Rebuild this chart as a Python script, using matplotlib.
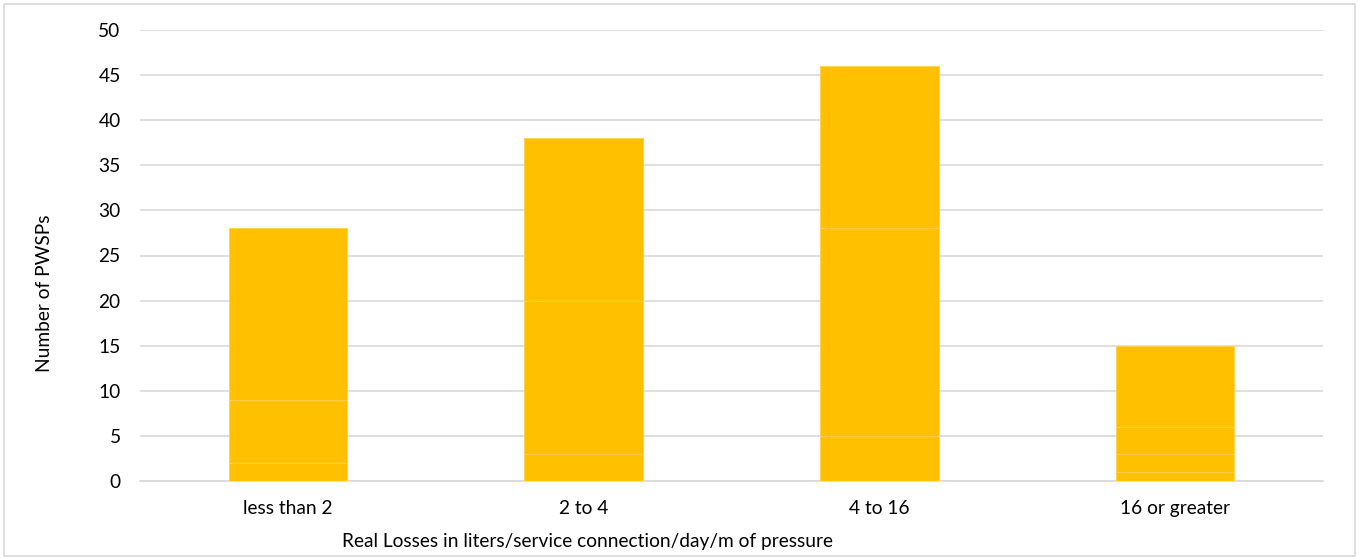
import numpy as np
import matplotlib.pyplot as plt

categories = ["less than 2", "2 to 4", "4 to 16", "16 or greater"]
# stacked segments
seg1 = [2, 3, 5, 1]
seg2 = [7, 17, 23, 2]
seg3 = [19, 18, 18, 3]
seg4 = [0, 0, 0, 9]
segments = [seg1, seg2, seg3, seg4]

plt.rcParams['font.family'] = ['Lato', 'DejaVu Sans']

fig = plt.figure(figsize=(13.59, 5.58), dpi=100)
ax = fig.add_axes([140 / 1359, 1 - 481 / 558, (1323 - 140) / 1359, (481 - 30) / 558])

x = np.arange(len(categories))
bottom = np.zeros(len(categories))
for seg in segments:
    ax.bar(x, seg, width=0.4, bottom=bottom, color="#FFC000",
           edgecolor="#FFD24D", linewidth=0.6, zorder=3)
    bottom += np.array(seg)

ax.set_xlim(-0.5, 3.5)
ax.set_ylim(0, 50)
ax.set_yticks(range(0, 51, 5))
ax.set_xticks(x)
ax.set_xticklabels(categories)
ax.tick_params(length=0, labelsize=13.8, colors="#000000")
ax.tick_params(axis="x", pad=14)
ax.tick_params(axis="y", pad=14)
ax.yaxis.grid(True, color="#D9D9D9", linewidth=1.2, zorder=0)
for s in ["top", "right", "left"]:
    ax.spines[s].set_visible(False)
ax.spines["bottom"].set_color("#D9D9D9")
ax.spines["bottom"].set_linewidth(1.2)

fig.text(44 / 1359, 1 - 293 / 558, "Number of PWSPs", rotation=90,
         ha="center", va="center", fontsize=13.8)
fig.text(588 / 1359, 1 - 541 / 558, "Real Losses in liters/service connection/day/m of pressure",
         ha="center", va="center", fontsize=13.8)

# light border around the chart area
border = plt.Rectangle((0.003, 0.003), 0.994, 0.99, transform=fig.transFigure,
                       fill=False, edgecolor="#D9D9D9", linewidth=1.2)
fig.patches.append(border)

fig.savefig("out.png", dpi=100)
